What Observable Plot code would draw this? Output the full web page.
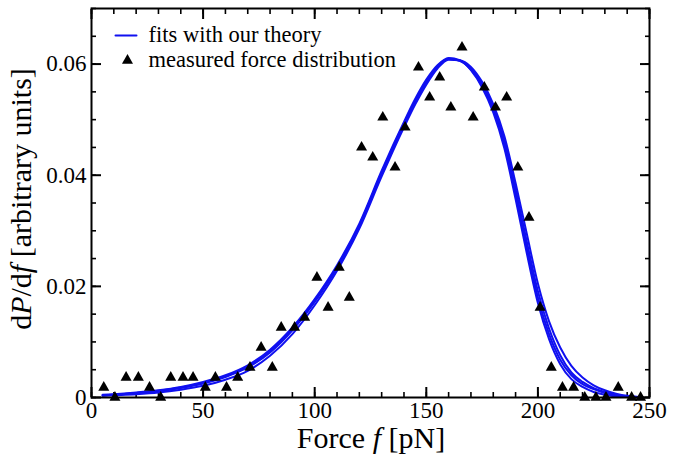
<!DOCTYPE html>
<html>
<head>
<meta charset="utf-8">
<script src="https://cdn.jsdelivr.net/npm/d3@7"></script>
<script src="https://cdn.jsdelivr.net/npm/@observablehq/plot@0.6"></script>
<style>
  html, body { margin: 0; padding: 0; background: #fff; }
</style>
</head>
<body>
<div id="chart"></div>
<script>
// ---- measured force distribution (triangles) ----
const forceX = [5.5, 10.5, 15.5, 21, 26, 31, 35.5, 41, 45.5, 51, 55.5, 60.5, 65.5, 71, 76, 81, 85, 91, 95.5, 101,
  106, 111, 115.5, 121, 126, 130.5, 136, 140.5, 146.5, 151.5, 156, 161, 166, 171, 176, 181, 186, 191, 196, 201,
  206, 211, 216, 221, 226, 230.5, 236, 242, 246];
const forceY = [0.0018, 0, 0.0036, 0.0036, 0.0018, 0, 0.0036, 0.0036, 0.0036, 0.0018, 0.0036, 0.0018, 0.0036, 0.0054, 0.009, 0.0054, 0.0126, 0.0126, 0.0144, 0.0216,
  0.0162, 0.0234, 0.018, 0.045, 0.0432, 0.0504, 0.0414, 0.0486, 0.0594, 0.054, 0.0576, 0.0522, 0.063, 0.0504, 0.0558, 0.0522, 0.054, 0.0414, 0.0324, 0.0162,
  0.0054, 0.0018, 0.0018, 0, 0, 0, 0.0018, 0, 0];

// ---- theory fits (several close curves) ----
const fitX = [5, 10, 20, 30, 40, 50, 60, 70, 80, 90, 100, 110, 120, 130, 135, 140, 145, 150, 155, 160, 165, 170, 175, 180,
  185, 190, 195, 200, 205, 210, 215, 220, 225, 230, 235, 240, 245];
const fitA = [0.0004, 0.0005, 0.0008, 0.0012, 0.0018, 0.0026, 0.0038, 0.0055, 0.0083, 0.0123, 0.0174, 0.0235, 0.0310, 0.0405, 0.0450, 0.0493, 0.0534, 0.0569, 0.0596, 0.0610, 0.0606, 0.0590, 0.0561, 0.0518,
  0.0455, 0.0366, 0.0270, 0.0180, 0.0114, 0.0068, 0.0040, 0.0024, 0.0015, 0.0008, 0.0004, 0.0002, 0.0001];
const fitB = [0.0005, 0.0006, 0.0009, 0.0013, 0.0019, 0.0028, 0.0040, 0.0058, 0.0086, 0.0126, 0.0177, 0.0238, 0.0313, 0.0408, 0.0453, 0.0496, 0.0537, 0.0572, 0.0598, 0.0611, 0.0607, 0.0589, 0.0558, 0.0513,
  0.0448, 0.0357, 0.0260, 0.0170, 0.0105, 0.0060, 0.0033, 0.0019, 0.0010, 0.0005, 0.0002, 0.0001, 0.0000];
const fitD = [0.0004, 0.0005, 0.0008, 0.0011, 0.0017, 0.0025, 0.0037, 0.0054, 0.0081, 0.0121, 0.0172, 0.0233, 0.0308, 0.0403, 0.0448, 0.0491, 0.0532, 0.0567, 0.0595, 0.0609, 0.0606, 0.0592, 0.0564, 0.0524,
  0.0462, 0.0375, 0.0281, 0.0191, 0.0124, 0.0076, 0.0045, 0.0028, 0.0017, 0.0010, 0.0005, 0.0002, 0.0001];
const fitC = [0.0003, 0.0004, 0.0006, 0.0009, 0.0014, 0.0021, 0.0032, 0.0048, 0.0075, 0.0114, 0.0166, 0.0228, 0.0304, 0.0398, 0.0443, 0.0486, 0.0527, 0.0563, 0.0592, 0.0608, 0.0607, 0.0595, 0.0568, 0.0528,
  0.0470, 0.0386, 0.0295, 0.0205, 0.0137, 0.0090, 0.0057, 0.0036, 0.0022, 0.0013, 0.0007, 0.0003, 0.0001];

// ---- axes ----
const xTicks = [0, 50, 100, 150, 200, 250];
const yTicks = [0, 0.02, 0.04, 0.06];
const yTickLabels = ["0", "0.02", "0.04", "0.06"];
const xDomain = [0, 250];
const yDomain = [0, 0.07];

const legendFit = "fits with our theory";
const legendData = "measured force distribution";

// build tables
const points = forceX.map((x, i) => ({x, y: forceY[i]}));
const fits = [["A", fitA], ["B", fitB], ["D", fitD], ["C", fitC]]
  .flatMap(([k, ys]) => fitX.map((x, i) => ({k, x, y: ys[i]})));

const xMinor = d3.range(0, 251, 10);
const yMinor = d3.range(0, 0.0701, 0.005);

const BLUE = "#1010f0";
const lineShape = {draw(ctx, l) { ctx.moveTo(0, 0); ctx.lineTo(0, -l); }};

const chart = Plot.plot({
  width: 694,
  height: 455,
  marginLeft: 91,
  marginRight: 45,
  marginTop: 8,
  marginBottom: 58,
  x: {domain: xDomain},
  y: {domain: yDomain},
  style: {fontFamily: "'Liberation Serif', 'Times New Roman', serif", fontSize: "23px", background: "#fff", color: "#000"},
  marks: [
    // minor ticks (inward) on all four sides
    Plot.axisX(xMinor, {anchor: "bottom", tickSize: -5, strokeWidth: 1.6, fill: "none", label: null}),
    Plot.axisX(xMinor, {anchor: "top", tickSize: -5, strokeWidth: 1.6, fill: "none", label: null}),
    Plot.axisY(yMinor, {anchor: "left", tickSize: -5, strokeWidth: 1.6, fill: "none", label: null}),
    Plot.axisY(yMinor, {anchor: "right", tickSize: -5, strokeWidth: 1.6, fill: "none", label: null}),
    // major ticks
    Plot.axisX(xTicks, {anchor: "bottom", tickSize: -10, strokeWidth: 2, fill: "none", label: null}),
    Plot.axisX(xTicks, {anchor: "top", tickSize: -10, strokeWidth: 2, fill: "none", label: null}),
    Plot.axisY(yTicks, {anchor: "left", tickSize: -10, strokeWidth: 2, fill: "none", label: null}),
    Plot.axisY(yTicks, {anchor: "right", tickSize: -10, strokeWidth: 2, fill: "none", label: null}),
    // tick labels
    Plot.axisX(xTicks, {anchor: "bottom", tickSize: 0, tickPadding: 4, label: null, fontSize: 23}),
    Plot.axisY(yTicks, {anchor: "left", tickSize: 0, tickPadding: 5, label: null, fontSize: 23,
      tickFormat: (d) => yTickLabels[yTicks.indexOf(d)]}),
    // fits
    Plot.line(fits, {x: "x", y: "y", z: "k", stroke: BLUE, strokeWidth: 2, curve: "monotone-x"}),
    // measured
    Plot.dot(points, {x: "x", y: "y", symbol: "triangle", r: 4.1, fill: "#000", stroke: "none"}),
    Plot.frame({stroke: "#000", strokeWidth: 2}),
    // legend
    Plot.vector([0], {frameAnchor: "top-left", dx: 24, dy: 27, rotate: 90, length: 21, anchor: "start",
      shape: lineShape, stroke: BLUE, strokeWidth: 2}),
    Plot.dot([0], {frameAnchor: "top-left", dx: 36, dy: 52, symbol: "triangle", r: 4.1, fill: "#000", stroke: "none"}),
    Plot.text([legendFit], {frameAnchor: "top-left", dx: 57, dy: 33, text: (d) => d, textAnchor: "start", lineAnchor: "bottom", fontSize: 22.5}),
    Plot.text([legendData], {frameAnchor: "top-left", dx: 57, dy: 58, text: (d) => d, textAnchor: "start", lineAnchor: "bottom", fontSize: 22.5})
  ]
});

// axis titles with italic variables
const svg = d3.select(chart);
const xl = svg.append("text")
  .attr("x", 371).attr("y", 448)
  .attr("text-anchor", "middle").attr("font-size", 30).attr("fill", "#000");
xl.append("tspan").text("Force ");
xl.append("tspan").attr("font-style", "italic").text("f");
xl.append("tspan").text(" [pN]");

const yl = svg.append("text")
  .attr("transform", "translate(31,199) rotate(-90)")
  .attr("text-anchor", "middle").attr("font-size", 30).attr("fill", "#000");
yl.append("tspan").text("d");
yl.append("tspan").attr("font-style", "italic").text("P");
yl.append("tspan").text("/d");
yl.append("tspan").attr("font-style", "italic").text("f");
yl.append("tspan").text(" [arbitrary units]");

document.getElementById("chart").appendChild(chart);
</script>
</body>
</html>
